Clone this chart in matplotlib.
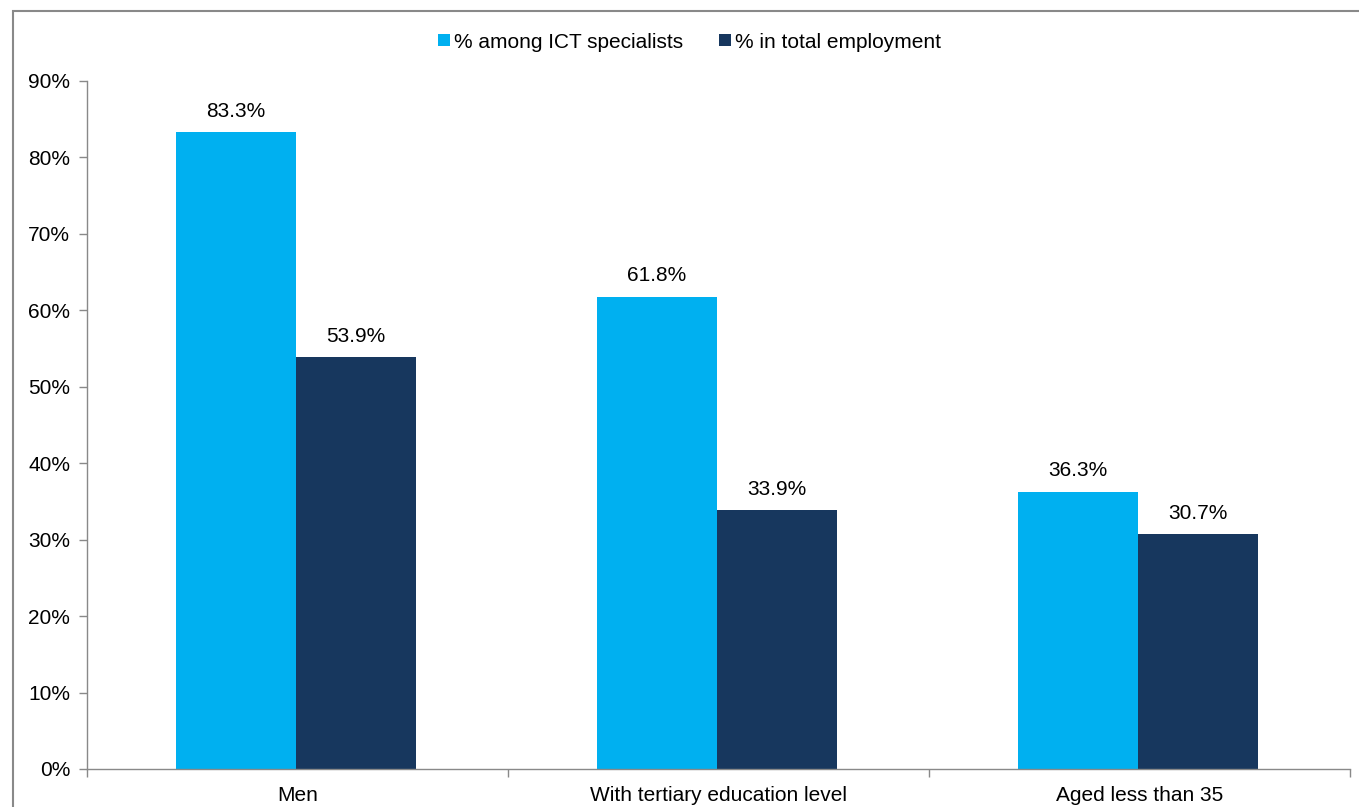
import matplotlib
matplotlib.use("Agg")
import matplotlib.pyplot as plt
from matplotlib.patches import Rectangle
import numpy as np

plt.rcParams['font.family'] = ['Liberation Sans', 'DejaVu Sans']

categories = ["Men", "With tertiary education level", "Aged less than 35"]
ict = [83.3, 61.8, 36.3]
total = [53.9, 33.9, 30.7]
series_names = ["% among ICT specialists", "% in total employment"]
yticks = [0, 10, 20, 30, 40, 50, 60, 70, 80, 90]

c_ict = "#00B0F0"
c_tot = "#17375E"
FS = 15

fig = plt.figure(figsize=(13.59, 8.07), dpi=100)
ax = fig.add_axes([87/1359, 38/807, (1350-87)/1359, (769-81)/807])

x = np.arange(len(categories))
w = 0.285
b1 = ax.bar(x - w/2 - 0.004, ict, w, color=c_ict, label=series_names[0])
b2 = ax.bar(x + w/2 - 0.004, total, w, color=c_tot, label=series_names[1])

for bars, vals in ((b1, ict), (b2, total)):
    for r, v in zip(bars, vals):
        ax.annotate(f"{v:.1f}%", (r.get_x() + r.get_width()/2, v),
                    xytext=(0, 8), textcoords="offset points",
                    ha="center", va="bottom", fontsize=FS, color="#000000")

ax.set_xlim(-0.5, 2.5)
ax.set_ylim(0, 90)
ax.set_yticks(yticks)
ax.set_yticklabels([f"{t}%" for t in yticks], fontsize=FS)
ax.set_xticks(x)
ax.set_xticklabels(categories, fontsize=FS)
ax.set_xticks(np.arange(-0.5, 3, 1), minor=True)
ax.tick_params(axis='x', which='major', length=0, pad=12)
ax.tick_params(axis='x', which='minor', length=6, color="#898989", width=1)
ax.tick_params(axis='y', length=6, color="#898989", width=1, pad=6)

for s in ("top", "right"):
    ax.spines[s].set_visible(False)
for s in ("left", "bottom"):
    ax.spines[s].set_color("#898989")
    ax.spines[s].set_linewidth(1)

leg = fig.legend(handles=[b1, b2], labels=series_names, loc="center",
                 bbox_to_anchor=(0.5 + 10/1359, 1 - 42/807), ncol=2, frameon=False,
                 fontsize=FS, handlelength=0.55, handleheight=0.55,
                 handletextpad=0.2, columnspacing=1.75)

border = Rectangle((13/1359, -0.05), 1.1, (807-11)/807 + 0.05,
                   transform=fig.transFigure, fill=False,
                   edgecolor="#898989", linewidth=1.5, clip_on=False)
fig.patches.append(border)

fig.savefig("out.png", dpi=100)
